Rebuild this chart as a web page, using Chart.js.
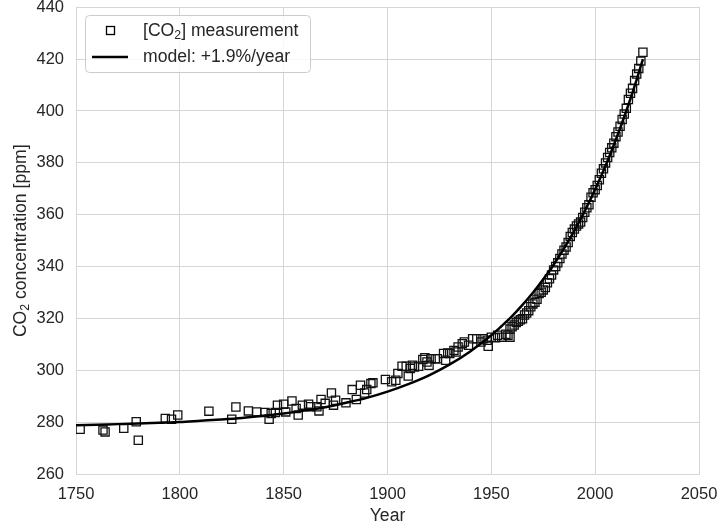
<!DOCTYPE html>
<html>
<head>
<meta charset="utf-8">
<script src="https://cdn.jsdelivr.net/npm/chart.js@4/dist/chart.umd.min.js"></script>
<style>
  html, body { margin: 0; padding: 0; background: #fff; }
  canvas { display: block; }
</style>
</head>
<body>
<canvas id="co2" width="718" height="529"></canvas>
<script>
// ice core + Mauna Loa annual means
const measYears = [
  1752, 1763, 1764, 1773, 1779, 1780, 1793, 1796, 1799, 1814,
  1825, 1827, 1833, 1837, 1841, 1843, 1844, 1846, 1847, 1850,
  1851, 1854, 1856, 1857, 1859, 1862, 1863, 1866, 1867, 1868,
  1870, 1873, 1874, 1875, 1880, 1883, 1885, 1887, 1889, 1890,
  1892, 1893, 1899, 1902, 1904, 1905, 1907, 1909, 1910, 1911,
  1912, 1913, 1915, 1917, 1918, 1919, 1920, 1921, 1923, 1924,
  1927, 1928, 1929, 1930, 1932, 1933, 1934, 1936, 1937, 1939,
  1941, 1943, 1945, 1946, 1948, 1948.5, 1950, 1952, 1953, 1955,
  1957, 1958, 1959,
  1959, 1960, 1961, 1962, 1963, 1964, 1965, 1966, 1967, 1968,
  1969, 1970, 1971, 1972, 1973, 1974, 1975, 1976, 1977, 1978,
  1979, 1980, 1981, 1982, 1983, 1984, 1985, 1986, 1987, 1988,
  1989, 1990, 1991, 1992, 1993, 1994, 1995, 1996, 1997, 1998,
  1999, 2000, 2001, 2002, 2003, 2004, 2005, 2006, 2007, 2008,
  2009, 2010, 2011, 2012, 2013, 2014, 2015, 2016, 2017, 2018,
  2019, 2020, 2021, 2022, 2023
];
const measPpm = [
  277.4, 277.1, 276.4, 277.8, 280.3, 273.2, 281.6, 281.3, 282.9, 284.4,
  281.3, 286.0, 284.5, 284.1, 283.9, 281.3, 283.5, 283.9, 286.7, 287.1,
  284.1, 288.3, 285.4, 282.9, 286.7, 287.1, 286.1, 286.1, 284.5, 288.9,
  287.4, 291.4, 286.7, 288.6, 287.6, 292.7, 288.9, 294.4, 291.4, 292.7,
  295.0, 295.3, 296.6, 295.7, 296.3, 298.9, 301.7, 301.7, 297.9, 300.8,
  302.1, 301.4, 301.7, 304.3, 305.0, 303.3, 302.1, 304.6, 304.6, 304.6,
  306.6, 304.0, 306.8, 306.6, 307.8, 307.2, 309.1, 310.4, 311.0, 309.8,
  312.3, 312.3, 311.0, 312.3, 311.7, 309.4, 312.9, 312.7, 313.6, 312.9,
  314.0, 313.6, 312.9,
  316.0, 316.9, 317.6, 318.5, 319.0, 319.6, 320.0, 321.4, 322.2, 323.1,
  324.6, 325.7, 326.3, 327.5, 329.7, 330.2, 331.1, 332.0, 333.8, 335.4,
  336.8, 338.8, 340.1, 341.5, 343.2, 344.9, 346.4, 347.6, 349.3, 351.7,
  353.2, 354.5, 355.7, 356.5, 357.2, 359.0, 361.0, 362.7, 363.9, 366.8,
  368.5, 369.7, 371.3, 373.5, 376.0, 377.7, 380.0, 382.1, 384.0, 385.8,
  387.6, 390.1, 391.9, 394.1, 396.7, 398.8, 401.0, 404.4, 406.8, 408.7,
  411.7, 414.2, 416.4, 419.2, 422.6
];

const modelYears = [
  1750, 1760, 1770, 1780, 1790, 1800, 1810, 1820, 1830, 1840,
  1850, 1860, 1870, 1880, 1890, 1900, 1910, 1920, 1930, 1940,
  1950, 1955, 1960, 1965, 1970, 1975, 1980, 1985, 1990, 1995,
  2000, 2005, 2010, 2015, 2020, 2023
];
const modelPpm = [
  279.0, 279.2, 279.4, 279.6, 279.9, 280.2, 280.7, 281.2, 281.8, 282.6,
  283.5, 284.6, 285.9, 287.6, 289.5, 291.9, 294.8, 298.2, 302.4, 307.5,
  313.6, 317.2, 321.0, 325.3, 330.0, 335.2, 340.8, 347.1, 353.9, 361.5,
  369.8, 378.9, 389.0, 400.0, 412.1, 420.0
];

const xTicks = [1750, 1800, 1850, 1900, 1950, 2000, 2050];
const yTicks = [260, 280, 300, 320, 340, 360, 380, 400, 420, 440];

const FONT = "'Liberation Sans', Arial, sans-serif";
const TXT = '#262626';
const GRID = '#d6d6d6';
const TICK_SIZE = 16.5;
const LABEL_SIZE = 17.6;

// draws a run of text pieces, some of them as subscripts
function drawParts(ctx, parts, x, y, size) {
  let cx = x;
  parts.forEach(([s, sub]) => {
    const fs = sub ? size * 0.7 : size;
    ctx.font = fs + 'px ' + FONT;
    ctx.fillText(s, cx, sub ? y + size * 0.28 : y);
    cx += ctx.measureText(s).width;
  });
}
function partsWidth(ctx, parts, size) {
  let w = 0;
  parts.forEach(([s, sub]) => {
    ctx.font = (sub ? size * 0.7 : size) + 'px ' + FONT;
    w += ctx.measureText(s).width;
  });
  return w;
}

const decor = {
  id: 'decor',
  afterDraw(chart) {
    const ctx = chart.ctx;
    const area = chart.chartArea;
    ctx.save();
    ctx.fillStyle = TXT;
    ctx.textBaseline = 'middle';

    // y axis title
    const yt = [['CO', false], ['2', true], [' concentration [ppm]', false]];
    ctx.save();
    ctx.translate(21, (area.top + area.bottom) / 2);
    ctx.rotate(-Math.PI / 2);
    drawParts(ctx, yt, -partsWidth(ctx, yt, LABEL_SIZE) / 2, 0, LABEL_SIZE);
    ctx.restore();

    // legend
    ctx.beginPath();
    ctx.roundRect(85.5, 15.5, 225, 57, 4);
    ctx.fillStyle = 'rgba(255,255,255,0.85)';
    ctx.fill();
    ctx.strokeStyle = '#cccccc';
    ctx.lineWidth = 1;
    ctx.stroke();

    ctx.strokeStyle = '#000';
    ctx.lineWidth = 1.3;
    ctx.strokeRect(106.5, 26.5, 8, 8);
    ctx.beginPath();
    ctx.moveTo(92, 57);
    ctx.lineTo(128, 57);
    ctx.lineWidth = 2.5;
    ctx.stroke();

    ctx.fillStyle = TXT;
    drawParts(ctx, [['[CO', false], ['2', true], ['] measurement', false]], 143, 31, LABEL_SIZE);
    drawParts(ctx, [['model: +1.9%/year', false]], 143, 57, LABEL_SIZE);
    ctx.restore();
  }
};

new Chart(document.getElementById('co2'), {
  type: 'scatter',
  data: {
    datasets: [
      {
        label: 'model: +1.9%/year',
        data: modelYears.map((x, i) => ({ x, y: modelPpm[i] })),
        showLine: true,
        borderColor: '#000',
        borderWidth: 2.5,
        pointRadius: 0,
        cubicInterpolationMode: 'monotone',
        order: 0
      },
      {
        label: '[CO2] measurement',
        data: measYears.map((x, i) => ({ x, y: measPpm[i] })),
        pointStyle: 'rect',
        pointRadius: 5.8,
        pointBorderWidth: 1.3,
        pointBorderColor: '#111',
        pointBackgroundColor: 'rgba(0,0,0,0)',
        order: 1
      }
    ]
  },
  options: {
    responsive: false,
    animation: false,
    layout: { padding: { top: 6, right: 19, left: 0, bottom: 0 } },
    plugins: {
      legend: { display: false },
      tooltip: { enabled: false }
    },
    scales: {
      x: {
        type: 'linear',
        min: 1750,
        max: 2050,
        afterFit: s => {
          s.height = 54.5;
          s.paddingLeft = 0;
          s.paddingRight = 0;
        },
        afterBuildTicks: s => { s.ticks = xTicks.map(v => ({ value: v })); },
        ticks: {
          padding: 10,
          color: TXT,
          font: { family: FONT, size: TICK_SIZE },
          maxRotation: 0,
          callback: v => String(v)
        },
        grid: { color: GRID, lineWidth: 1, drawTicks: false },
        border: { color: GRID, width: 1 },
        title: {
          display: true,
          text: 'Year',
          color: TXT,
          font: { family: FONT, size: LABEL_SIZE },
          padding: { top: 0, bottom: 2 }
        }
      },
      y: {
        min: 260,
        max: 440,
        afterFit: s => {
          s.width = 76;
          s.paddingTop = 0;
          s.paddingBottom = 0;
        },
        afterBuildTicks: s => { s.ticks = yTicks.map(v => ({ value: v })); },
        ticks: {
          padding: 12,
          color: TXT,
          font: { family: FONT, size: TICK_SIZE },
          callback: v => String(v)
        },
        grid: { color: GRID, lineWidth: 1, drawTicks: false },
        border: { color: GRID, width: 1 }
      }
    }
  },
  plugins: [decor]
});
</script>
</body>
</html>
